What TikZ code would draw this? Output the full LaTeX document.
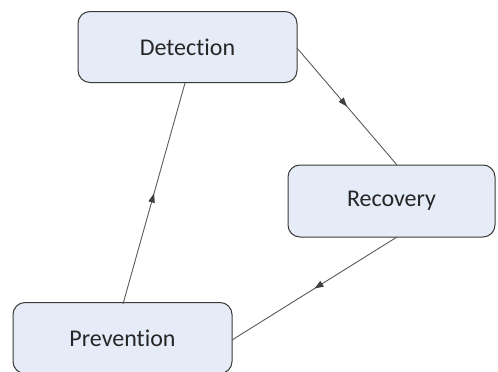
\documentclass[tikz,border=0pt]{standalone}
\usepackage{fontspec}
\setmainfont[Ligatures=NoCommon]{Carlito}
\usetikzlibrary{decorations.markings,arrows.meta}
\definecolor{boxfill}{HTML}{E6ECF7}
\definecolor{boxline}{HTML}{3A3A3A}
\definecolor{linkc}{HTML}{5A5A5A}
\tikzset{
  stagebox/.style={draw=boxline, line width=1pt, fill=boxfill, rounded corners=12pt,
    minimum width=219pt, minimum height=71pt, inner sep=0pt, font=\fontsize{24}{28}\selectfont, text=black!85},
  link/.style={draw=linkc, line width=0.9pt,
    postaction={decorate},
    decoration={markings, mark=at position 0.5 with {\arrow[linkc!70!black]{Triangle[length=9pt,width=6.5pt]}}}}
}
\begin{document}
\begin{tikzpicture}[x=1pt,y=-1pt]
\useasboundingbox (0,0) rectangle (498,372);
\node[stagebox] (det) at (187.5,47) {Detection};
\node[stagebox, minimum width=207pt, minimum height=72pt] (rec) at (391.5,201) {Recovery};
\node[stagebox] (pre) at (122.5,338) {Prevention};
\coordinate (d1) at (297,48);
\coordinate (r1) at (397,165);
\coordinate (r2) at (397,237);
\coordinate (p1) at (232,340);
\coordinate (p2) at (123,304);
\coordinate (d2) at (185,83);
\path[link] (d1) -- (r1);
\path[link] (r2) -- (p1);
\path[link] (p2) -- (d2);
\end{tikzpicture}
\end{document}
